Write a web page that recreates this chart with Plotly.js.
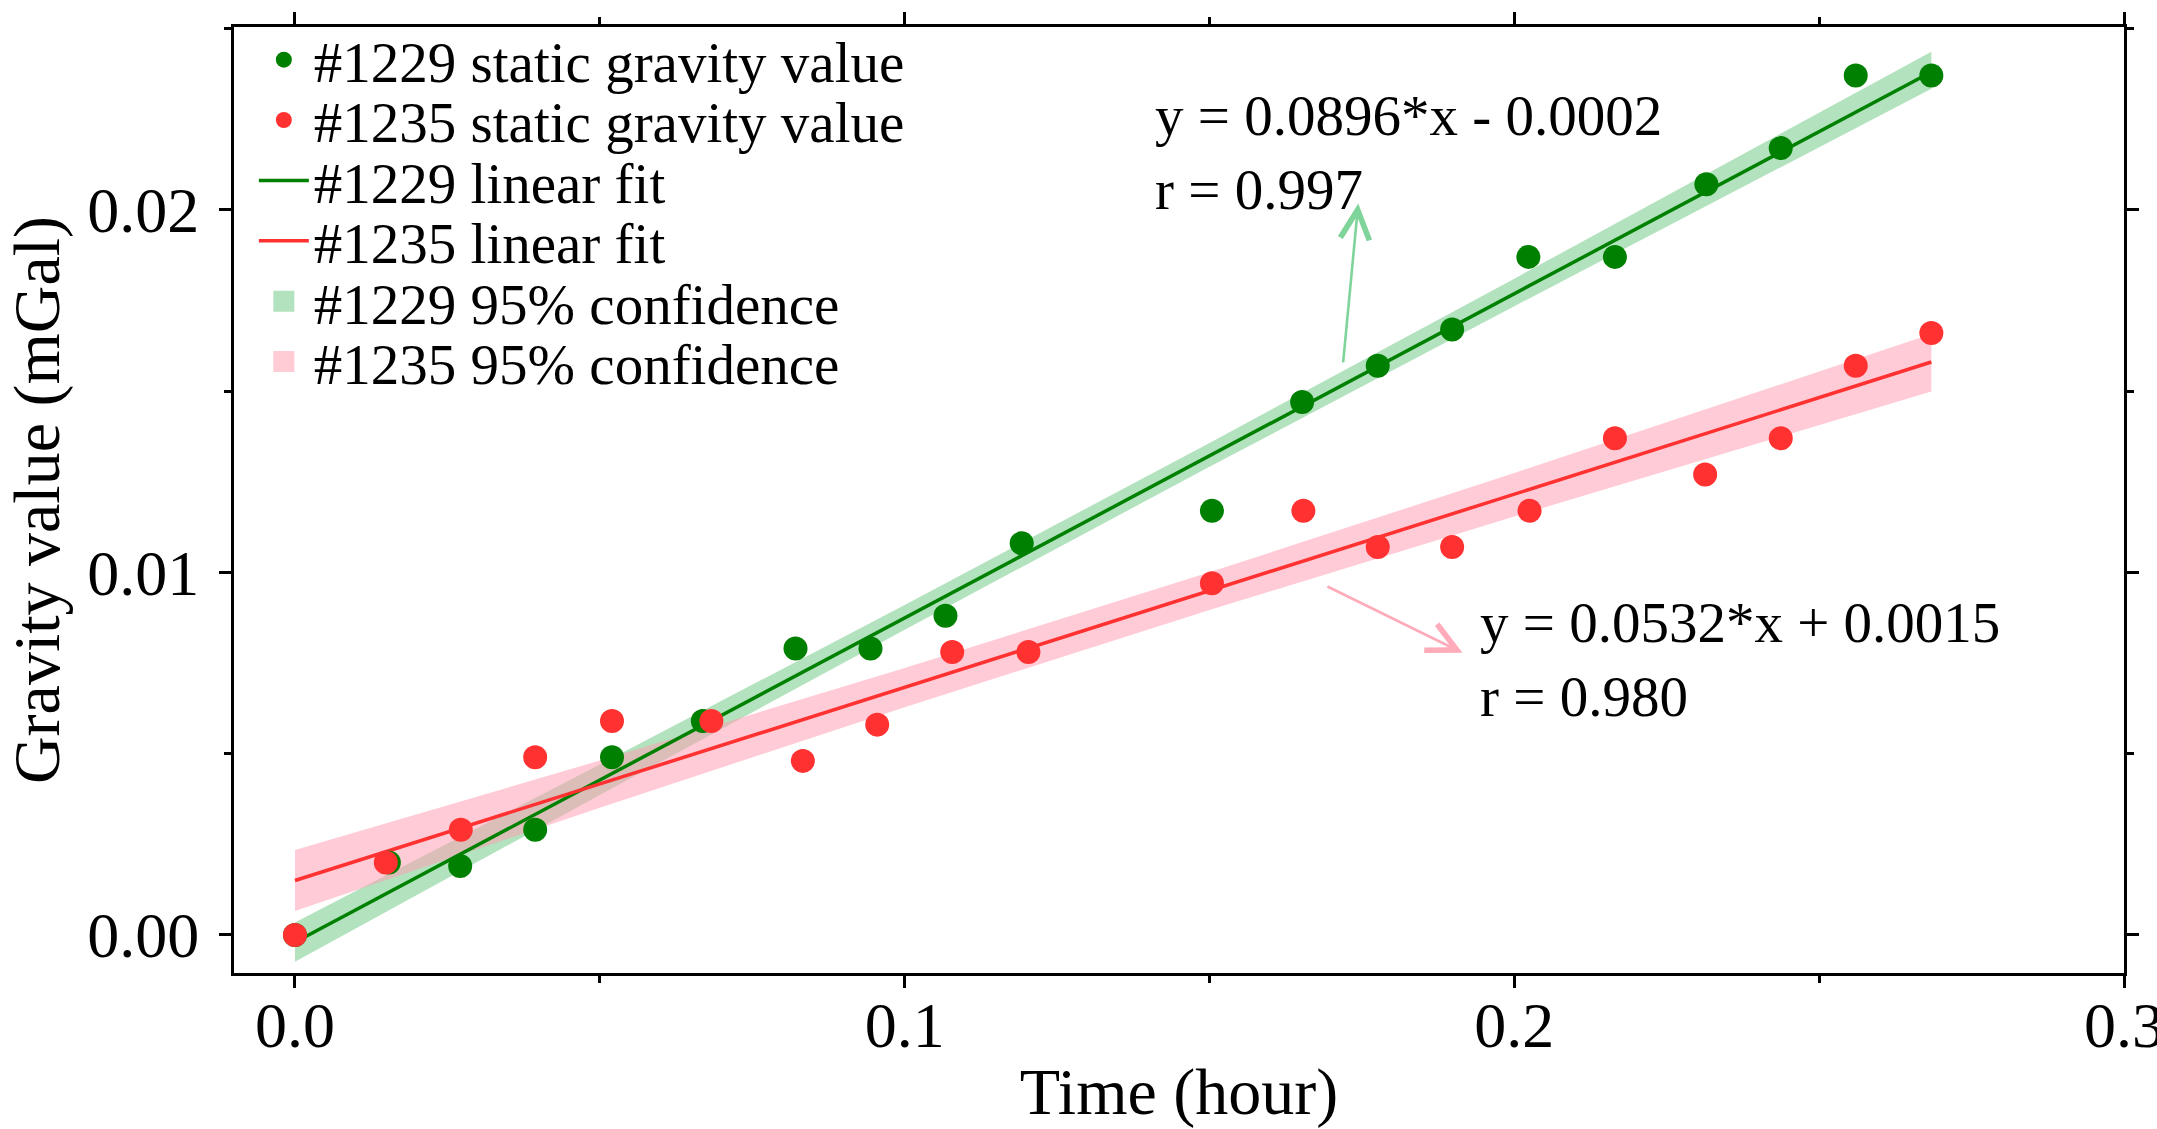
<!DOCTYPE html>
<html>
<head>
<meta charset="utf-8">
<script src="https://cdn.plot.ly/plotly-3.0.1.min.js"></script>
<style>html,body{margin:0;padding:0;background:#fff;}#chart{width:2157px;height:1129px;}</style>
</head>
<body>
<div id="chart"></div>
<script>
// ---- data ----
var timeG = [0, 0.0154, 0.0271, 0.0394, 0.0520, 0.0669, 0.0821, 0.0944, 0.1067, 0.1192, 0.1504, 0.1652, 0.1776, 0.1898, 0.2023, 0.2165, 0.2315, 0.2437, 0.2560, 0.2684];
var gravG = [0, 0.0020, 0.0019, 0.0029, 0.0049, 0.0059, 0.0079, 0.0079, 0.0088, 0.0108, 0.0117, 0.0147, 0.0157, 0.0167, 0.0187, 0.0187, 0.0207, 0.0217, 0.0237, 0.0237];
var timeR = [0, 0.0149, 0.0272, 0.0394, 0.0520, 0.0683, 0.0833, 0.0955, 0.1078, 0.1203, 0.1504, 0.1654, 0.1776, 0.1898, 0.2025, 0.2165, 0.2313, 0.2437, 0.2560, 0.2684];
var gravR = [0, 0.0020, 0.0029, 0.0049, 0.0059, 0.0059, 0.0048, 0.0058, 0.0078, 0.0078, 0.0097, 0.0117, 0.0107, 0.0107, 0.0117, 0.0137, 0.0127, 0.0137, 0.0157, 0.0166];

var fitX = [0, 0.2684];
var fitG = [-0.0002, 0.0238];
var fitR = [0.0015, 0.0158];

var bandX = [0, 0.05, 0.1, 0.15, 0.2, 0.2684];
var bandGUpper = [0.00034, 0.0047, 0.0091, 0.01357, 0.0181, 0.02436];
var bandGLower = [-0.00074, 0.00386, 0.00842, 0.01291, 0.01734, 0.02334];
var bandRUpper = [0.00234, 0.00481, 0.00736, 0.0100, 0.01274, 0.01657];
var bandRLower = [0.00066, 0.00351, 0.00628, 0.00896, 0.01154, 0.01499];

var legendNames = ['#1229 static gravity value', '#1235 static gravity value', '#1229 linear fit', '#1235 linear fit', '#1229 95% confidence', '#1235 95% confidence'];
var xTickVals = [0, 0.1, 0.2, 0.3];
var xTickText = ['0.0', '0.1', '0.2', '0.3'];
var yTickVals = [0, 0.01, 0.02];
var yTickText = ['0.00', '0.01', '0.02'];

var eqG = ['y = 0.0896*x - 0.0002', 'r = 0.997'];
var eqR = ['y = 0.0532*x + 0.0015', 'r = 0.980'];
// arrow tail / head (data coords)
var arrowG = {tail: [0.1719, 0.01575], head: [0.1744, 0.02017]};
var arrowR = {tail: [0.1691, 0.00963], head: [0.1915, 0.00778]};

// ---- styling ----
var FONT = '"Liberation Serif", "Times New Roman", Times, serif';
var GREEN = '#008000', RED = '#ff3131';
var BAND_G = 'rgba(0,160,40,0.30)', BAND_R = 'rgba(255,160,180,0.55)';
var PATCH_G = '#b3e2be', PATCH_R = '#ffccd5';

function poly(x, up, lo) {
  return {x: x.concat(x.slice().reverse()), y: up.concat(lo.slice().reverse())};
}
var pg = poly(bandX, bandGUpper, bandGLower);
var pr = poly(bandX, bandRUpper, bandRLower);

var traces = [
  {x: pg.x, y: pg.y, type: 'scatter', mode: 'lines', fill: 'toself', fillcolor: BAND_G, line: {width: 0, color: 'rgba(0,0,0,0)'}, showlegend: false, hoverinfo: 'skip'},
  {x: pr.x, y: pr.y, type: 'scatter', mode: 'lines', fill: 'toself', fillcolor: BAND_R, line: {width: 0, color: 'rgba(0,0,0,0)'}, showlegend: false, hoverinfo: 'skip'},
  {x: fitX, y: fitG, type: 'scatter', mode: 'lines', line: {color: GREEN, width: 3.5}, name: legendNames[2], legend: 'legend3'},
  {x: fitX, y: fitR, type: 'scatter', mode: 'lines', line: {color: RED, width: 3.5}, name: legendNames[3], legend: 'legend4'},
  {x: timeG, y: gravG, type: 'scatter', mode: 'markers', marker: {color: GREEN, size: 24}, name: legendNames[0], legend: 'legend'},
  {x: timeR, y: gravR, type: 'scatter', mode: 'markers', marker: {color: RED, size: 24}, name: legendNames[1], legend: 'legend2'},
  // legend patches for the confidence bands
  {x: [null], y: [null], type: 'scatter', mode: 'markers', marker: {symbol: 'square', color: PATCH_G, size: 16, line: {color: PATCH_G, width: 5}}, name: legendNames[4], legend: 'legend5', hoverinfo: 'skip'},
  {x: [null], y: [null], type: 'scatter', mode: 'markers', marker: {symbol: 'square', color: PATCH_R, size: 16, line: {color: PATCH_R, width: 5}}, name: legendNames[5], legend: 'legend6', hoverinfo: 'skip'}
];

var axisCommon = {
  showgrid: false, zeroline: false, showline: true, linecolor: '#000', linewidth: 3,
  mirror: 'allticks', ticks: 'outside', ticklen: 12, tickwidth: 3, tickcolor: '#000',
  ticklabeloverflow: 'allow',
  tickfont: {family: FONT, size: 64, color: '#000'}
};

// one legend box per row so the rows can sit as tightly as in the reference
var legendRowY = [0.9650, 0.9012, 0.8373, 0.7735, 0.7096, 0.6458];
function legendBox(yc) {
  return {x: 0.0105, y: yc, xanchor: 'left', yanchor: 'middle', bgcolor: 'rgba(0,0,0,0)', borderwidth: 0,
          font: {family: FONT, size: 57, color: '#000'}, itemwidth: 50};
}

var layout = {
  width: 2157, height: 1129,
  margin: {l: 234, r: 33, t: 27, b: 156, pad: 0},
  paper_bgcolor: '#fff', plot_bgcolor: '#fff',
  font: {family: FONT, color: '#000'},
  showlegend: true,
  legend: legendBox(legendRowY[0]),
  legend2: legendBox(legendRowY[1]),
  legend3: legendBox(legendRowY[2]),
  legend4: legendBox(legendRowY[3]),
  legend5: legendBox(legendRowY[4]),
  legend6: legendBox(legendRowY[5]),
  xaxis: Object.assign({}, axisCommon, {
    range: [-0.01, 0.3], tickvals: xTickVals, ticktext: xTickText, ticklabelstandoff: -18,
    minor: {dtick: 0.05, tick0: 0, ticks: 'outside', ticklen: 7, tickwidth: 3, tickcolor: '#000'},
    title: {text: 'Time (hour)', font: {family: FONT, size: 66, color: '#000'}, standoff: 40}
  }),
  yaxis: Object.assign({}, axisCommon, {
    range: [-0.00105, 0.02504], tickvals: yTickVals, ticktext: yTickText, ticklabelstandoff: 7,
    minor: {dtick: 0.005, tick0: 0, ticks: 'outside', ticklen: 7, tickwidth: 3, tickcolor: '#000'},
    title: {text: 'Gravity value (mGal)', font: {family: FONT, size: 66, color: '#000'}, standoff: 14}
  }),
  annotations: [
    {x: 0.1407, y: 0.02353, xref: 'x', yref: 'y', xanchor: 'left', yanchor: 'top', align: 'left', showarrow: false,
     text: eqG.join('<br>'), font: {family: FONT, size: 57, color: '#000'}},
    {x: 0.1941, y: 0.00955, xref: 'x', yref: 'y', xanchor: 'left', yanchor: 'top', align: 'left', showarrow: false,
     text: eqR.join('<br>'), font: {family: FONT, size: 57, color: '#000'}},
    {x: arrowG.head[0], y: arrowG.head[1], ax: arrowG.tail[0], ay: arrowG.tail[1], xref: 'x', yref: 'y', axref: 'x', ayref: 'y',
     text: '', showarrow: true, arrowhead: 5, arrowsize: 2.2, arrowwidth: 2.6, arrowcolor: '#7fd49a', standoff: 0},
    {x: arrowR.head[0], y: arrowR.head[1], ax: arrowR.tail[0], ay: arrowR.tail[1], xref: 'x', yref: 'y', axref: 'x', ayref: 'y',
     text: '', showarrow: true, arrowhead: 5, arrowsize: 2.2, arrowwidth: 2.6, arrowcolor: '#ffabba', standoff: 0}
  ]
};

Plotly.newPlot('chart', traces, layout, {displayModeBar: false, staticPlot: true});
</script>
</body>
</html>
